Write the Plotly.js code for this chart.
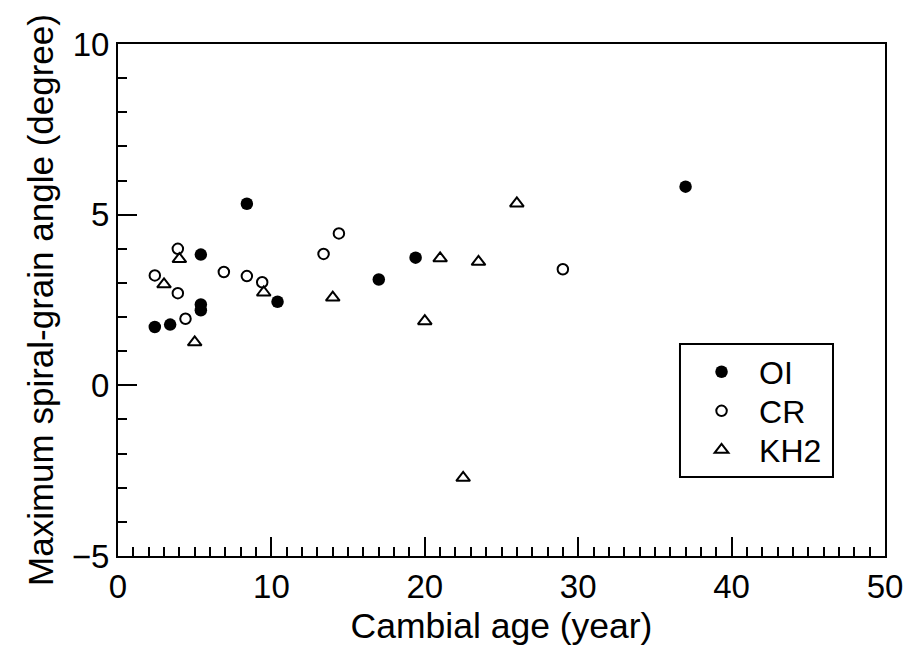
<!DOCTYPE html>
<html>
<head>
<meta charset="utf-8">
<script src="https://cdn.plot.ly/plotly-3.0.1.min.js"></script>
<style>html,body{margin:0;padding:0;background:#fff;}#chart{width:910px;height:653px;}</style>
</head>
<body>
<div id="chart"></div>
<script>
// Data
var oiAge   = [2.4, 3.4, 5.4, 5.4, 5.4, 8.4, 10.4, 17.0, 19.4, 37.0];
var oiAngle = [1.71, 1.78, 2.2, 2.37, 3.83, 5.32, 2.45, 3.1, 3.74, 5.82];

var crAge   = [2.4, 3.9, 3.9, 4.4, 6.9, 8.4, 9.4, 13.4, 14.4, 29.0];
var crAngle = [3.22, 4.0, 2.7, 1.95, 3.32, 3.2, 3.02, 3.85, 4.45, 3.4];

var khAge   = [3.0, 4.0, 5.0, 9.5, 14.0, 20.0, 21.0, 22.5, 23.5, 26.0];
var khAngle = [2.96, 3.7, 1.26, 2.72, 2.57, 1.88, 3.72, -2.71, 3.62, 5.33];

var seriesNames = ["OI", "CR", "KH2"];
var xTitle = "Cambial age (year)";
var yTitle = "Maximum spiral-grain angle (degree)";

var FONT = "Liberation Sans, Arial, sans-serif";

var traces = [
  {x: oiAge, y: oiAngle, name: seriesNames[0], type: "scatter", mode: "markers", legend: "legend",
   marker: {symbol: "circle", size: 12.5, color: "#000", line: {width: 0}}},
  {x: crAge, y: crAngle, name: seriesNames[1], type: "scatter", mode: "markers", legend: "legend2",
   marker: {symbol: "circle-open", size: 10.5, color: "#000", line: {width: 2, color: "#000"}}},
  {x: khAge, y: khAngle, name: seriesNames[2], type: "scatter", mode: "markers", legend: "legend3",
   marker: {symbol: "triangle-up-open", size: 12, color: "#000", line: {width: 2, color: "#000"}}}
];

var axisCommon = {
  showgrid: false, zeroline: false, showline: true, linecolor: "#000", linewidth: 2,
  mirror: true, ticks: "inside", ticklen: 19, tickwidth: 2, tickcolor: "#000",
  tickfont: {family: FONT, size: 33, color: "#000"},
  minor: {ticks: "inside", ticklen: 9, tickwidth: 2, tickcolor: "#000", dtick: 1}
};

function legendAt(yPaper) {
  return {
    x: 0.738, y: yPaper, xanchor: "left", yanchor: "middle",
    bgcolor: "rgba(0,0,0,0)", borderwidth: 0,
    font: {family: FONT, size: 32, color: "#000"},
    itemwidth: 65, tracegroupgap: 0
  };
}

var layout = {
  width: 910, height: 653,
  margin: {l: 118, r: 25, t: 44, b: 97},
  paper_bgcolor: "#fff", plot_bgcolor: "#fff",
  font: {family: FONT, color: "#000"},
  showlegend: true,
  xaxis: Object.assign({}, axisCommon, {
    range: [0, 50], dtick: 10, tick0: 0,
    title: {text: xTitle, font: {family: FONT, size: 35.5, color: "#000"}, standoff: 10}
  }),
  yaxis: Object.assign({}, axisCommon, {
    range: [-5, 10], dtick: 5, tick0: 0,
    title: {text: yTitle, font: {family: FONT, size: 35, color: "#000"}, standoff: 8}
  }),
  legend: legendAt(0.3594),
  legend2: legendAt(0.2832),
  legend3: legendAt(0.2070),
  shapes: [{
    type: "rect", xref: "paper", yref: "paper",
    x0: 0.7327, x1: 0.9322, y0: 0.1543, y1: 0.4141,
    line: {color: "#000", width: 2}, fillcolor: "rgba(0,0,0,0)"
  }]
};

Plotly.newPlot("chart", traces, layout, {displayModeBar: false, staticPlot: true});
</script>
</body>
</html>
